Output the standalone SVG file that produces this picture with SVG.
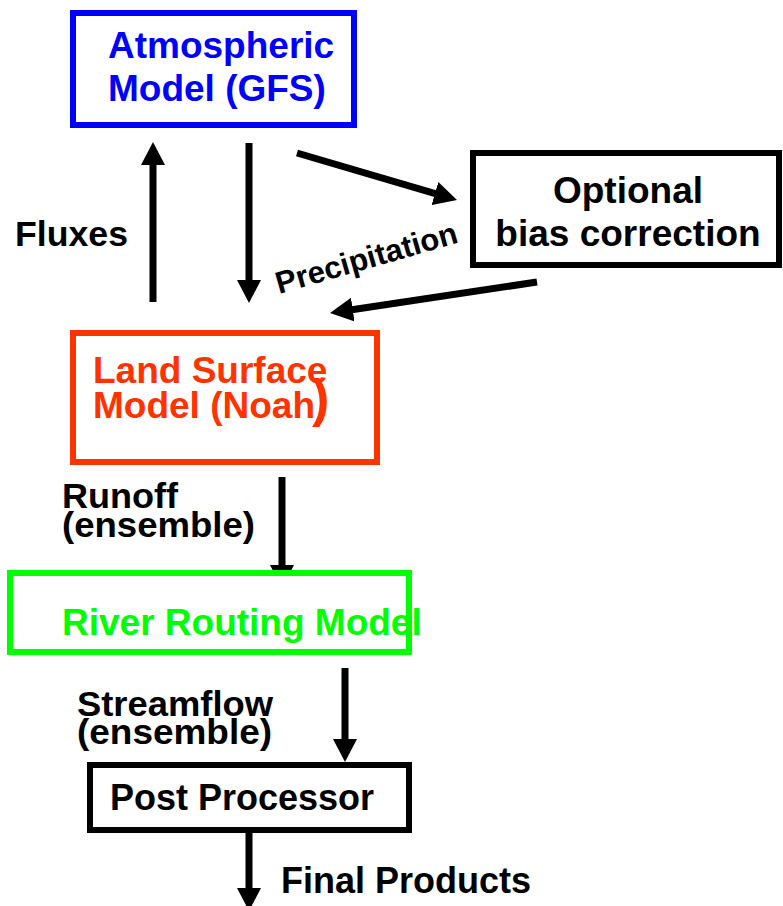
<svg xmlns="http://www.w3.org/2000/svg" width="783" height="906" viewBox="0 0 783 906">
<style>
  text { font-family: "Liberation Sans", Arial, sans-serif; font-weight: bold; font-size: 37px; fill: #000; }
  .lbl { font-size: 35px; }
  .box { fill: #fff; stroke-width: 6; }
  .conn { stroke: #000; stroke-width: 7; fill: none; marker-end: url(#ah); }
</style>
<defs>
  <marker id="ah" viewBox="0 0 24 24" refX="11" refY="12" markerWidth="24" markerHeight="24" markerUnits="userSpaceOnUse" orient="auto">
    <path d="M0,0 L23,12 L0,24 z" fill="#000"/>
  </marker>
</defs>
<rect width="783" height="906" fill="#fff"/>
<g id="connectors">
  <line class="conn" x1="153" y1="302" x2="153" y2="154"/>
  <line class="conn" x1="249" y1="143" x2="249" y2="291"/>
  <line class="conn" x1="297" y1="153" x2="445.5" y2="196.6"/>
  <line class="conn" x1="537" y1="282" x2="341.9" y2="311.2"/>
  <line class="conn" x1="282" y1="477" x2="282" y2="576"/>
  <line class="conn" x1="345" y1="668" x2="345" y2="750"/>
  <line class="conn" x1="249" y1="833" x2="249" y2="899"/>
  <text class="lbl" x="15" y="246" textLength="113" lengthAdjust="spacingAndGlyphs">Fluxes</text>
  <text x="279" y="294" transform="rotate(-16 279 294)" style="font-size:31px">Precipitation</text>
  <text class="lbl" x="62" y="508" textLength="116" lengthAdjust="spacingAndGlyphs">Runoff</text>
  <text class="lbl" x="62" y="537" textLength="193" lengthAdjust="spacingAndGlyphs">(ensemble)</text>
  <text class="lbl" x="77" y="716" textLength="196" lengthAdjust="spacingAndGlyphs">Streamflow</text>
  <text class="lbl" x="77" y="744" textLength="195" lengthAdjust="spacingAndGlyphs">(ensemble)</text>
  <text x="281" y="893" style="font-size:36px">Final Products</text>
</g>
<g id="atmospheric">
  <rect class="box" x="73" y="13" width="281" height="112" stroke="#0000ff"/>
  <text x="108" y="58" style="fill:#0000ff">Atmospheric</text>
  <text x="108" y="101" style="fill:#0000ff">Model (GFS)</text>
</g>
<g id="bias">
  <rect class="box" x="473" y="153" width="306" height="112" stroke="#000"/>
  <text x="628" y="203" text-anchor="middle">Optional</text>
  <text x="628" y="246" text-anchor="middle">bias correction</text>
</g>
<g id="lsm">
  <rect class="box" x="73" y="333" width="304" height="129" stroke="#ff3300"/>
  <text x="93" y="383" style="fill:#ff3300">Land Surface</text>
  <text x="93" y="418" style="fill:#ff3300">Model (Noah<tspan x="312" y="416" style="font-size:52px">)</tspan></text>
</g>
<g id="river">
  <rect class="box" x="10" y="573" width="399" height="79" stroke="#00ff00"/>
  <text x="62" y="635" style="fill:#00ff00">River Routing Model</text>
</g>
<g id="post">
  <rect class="box" x="90" y="765" width="319" height="65" stroke="#000"/>
  <text x="110" y="810" style="font-size:36px">Post Processor</text>
</g>
</svg>
